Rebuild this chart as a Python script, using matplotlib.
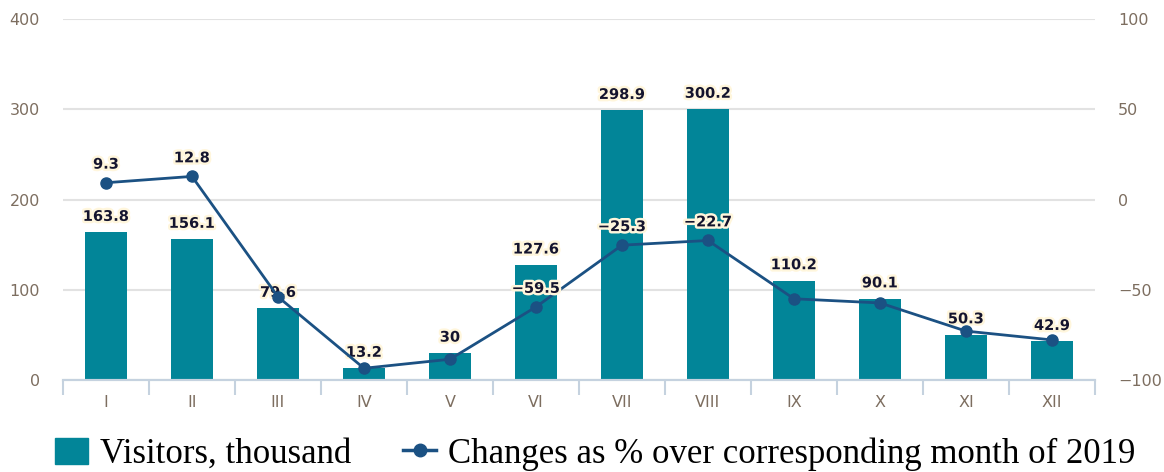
import matplotlib
matplotlib.use("Agg")
import matplotlib.pyplot as plt
import matplotlib.patheffects as pe
from matplotlib.lines import Line2D
from matplotlib.patches import Patch
import numpy as np

months = ["I", "II", "III", "IV", "V", "VI", "VII", "VIII", "IX", "X", "XI", "XII"]
visitors = [163.8, 156.1, 79.6, 13.2, 30, 127.6, 298.9, 300.2, 110.2, 90.1, 50.3, 42.9]
change_pct = [9.3, 12.8, -53.9, -93.5, -88.5, -59.5, -25.3, -22.7, -55.0, -57.3, -72.9, -77.8]
# only these points carry a label on the line
change_labels = {0: "9.3", 1: "12.8", 5: "\u221259.5", 6: "\u221225.3", 7: "\u221222.7"}

bar_color = "#028598"
line_color = "#1b5183"
tick_color = "#7d6e60"
axis_color = "#c5d2df"
grid_color = "#e2e2e2"

fig = plt.figure(figsize=(11.64, 4.72), dpi=100)
ax = fig.add_axes([0.0541, 0.1949, 0.8866, 0.7648])
ax2 = ax.twinx()

x = np.arange(len(months))
ax.bar(x, visitors, width=0.48, color=bar_color, zorder=2)
ax.set_xlim(-0.5, len(months) - 0.5)
ax.set_ylim(0, 400)
ax.set_yticks([0, 100, 200, 300, 400])
ax.grid(axis="y", color=grid_color, linewidth=1.5, zorder=0)
ax.set_axisbelow(True)

ax2.plot(x, change_pct, color=line_color, linewidth=2, marker="o", markersize=8, zorder=3)
ax2.set_ylim(-100, 100)
ax2.set_yticks([-100, -50, 0, 50, 100])
ax2.set_yticklabels(["\u2212100", "\u221250", "0", "50", "100"])

for a in (ax, ax2):
    for s in ("top", "left", "right"):
        a.spines[s].set_visible(False)
    a.spines["bottom"].set_color(axis_color)
    a.spines["bottom"].set_linewidth(1.5)
    a.tick_params(axis="y", length=0, labelsize=11.5, labelcolor=tick_color, pad=16.5)

ax.set_xticks(x)
ax.set_xticklabels(months)
ax.set_xticks(np.arange(-0.5, len(months)), minor=True)
ax.tick_params(axis="x", which="major", length=0, pad=11, labelsize=11.5, labelcolor=tick_color)
ax.tick_params(axis="x", which="minor", length=11, width=1.5, color=axis_color)

glow = [pe.withStroke(linewidth=3.5, foreground="#fff6dc")]
for i, v in enumerate(visitors):
    ax.annotate(f"{v:g}", (x[i], v), xytext=(0, 6), textcoords="offset points",
                ha="center", va="bottom", fontsize=10.5, fontweight="bold",
                color="#14142e", path_effects=glow, zorder=5)
for i, txt in change_labels.items():
    ax2.annotate(txt, (x[i], change_pct[i]), xytext=(0, 8), textcoords="offset points",
                 ha="center", va="bottom", fontsize=10.5, fontweight="bold",
                 color="#14142e", path_effects=glow, zorder=5)

handles = [
    Patch(facecolor=bar_color, edgecolor=bar_color),
    Line2D([0], [0], color=line_color, linewidth=2.5, marker="o", markersize=9),
]
fig.legend(handles, ["Visitors, thousand", "Changes as % over corresponding month of 2019"],
           loc="lower left", bbox_to_anchor=(0.047, 0.002), ncol=2, frameon=False,
           borderpad=0, borderaxespad=0,
           prop={"family": "Liberation Serif", "size": 25}, handlelength=0.95,
           handleheight=0.8, handletextpad=0.35, columnspacing=1.5)

fig.savefig("out.png", dpi=100)
